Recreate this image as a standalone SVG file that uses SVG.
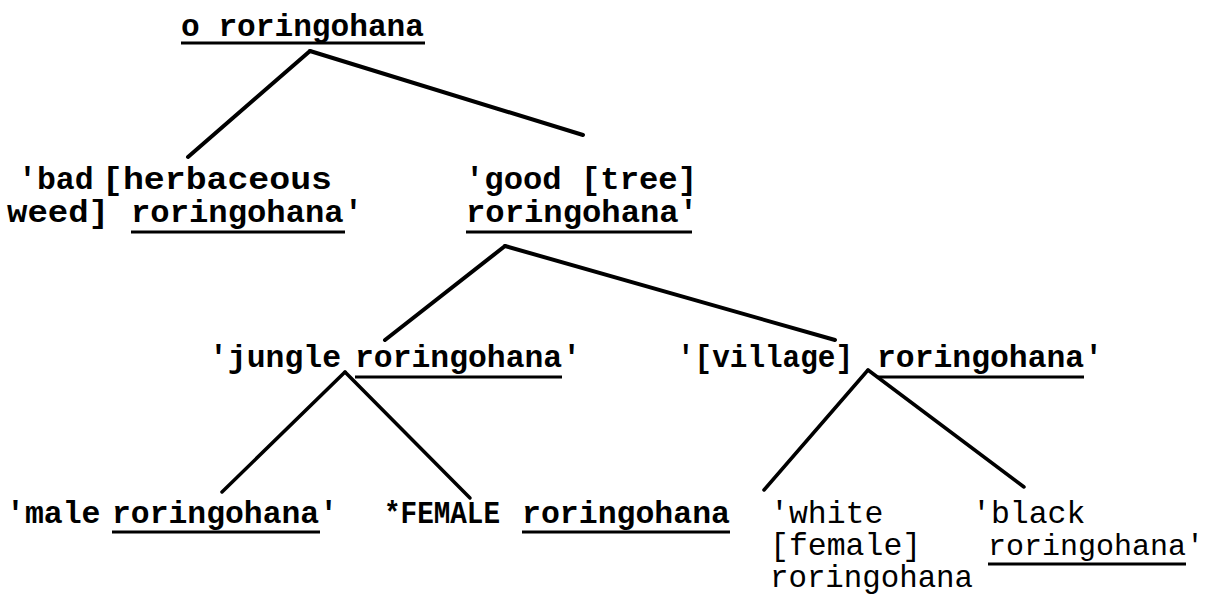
<svg xmlns="http://www.w3.org/2000/svg" width="1212" height="594" viewBox="0 0 1212 594">
<style>
  text { font-family: "Liberation Mono", "Courier New", monospace; fill: #000; white-space: pre; font-size: 31.5px; }
  .b { font-weight: bold; }
  .s { font-size: 30px; }
  .ul { stroke: #000; stroke-width: 3; }
  .edge { stroke: #000; stroke-width: 4; stroke-linecap: round; fill: none; }
  .edge2 { stroke: #000; stroke-width: 3.5; stroke-linecap: round; fill: none; }
</style>
<rect width="1212" height="594" fill="#fff"/>
<g id="connectors">
  <line class="edge" x1="310" y1="51" x2="188" y2="157"/>
  <line class="edge" x1="310" y1="51" x2="583" y2="135"/>
  <line class="edge" x1="505" y1="246" x2="385" y2="340"/>
  <line class="edge" x1="505" y1="246" x2="835" y2="340"/>
  <line class="edge2" x1="345" y1="372" x2="222" y2="492"/>
  <line class="edge2" x1="345" y1="372" x2="470" y2="498"/>
  <line class="edge2" x1="868" y1="370" x2="764" y2="490"/>
  <line class="edge2" x1="868" y1="370" x2="1024" y2="487"/>
</g>
<g id="node-root">
  <text class="b" x="181" y="36" textLength="243" lengthAdjust="spacingAndGlyphs">o roringohana</text>
  <line class="ul" x1="181" y1="43" x2="425" y2="43"/>
</g>
<g id="node-bad">
  <text class="b" x="18" y="189">'bad</text>
  <text class="b" x="102" y="189" textLength="230" lengthAdjust="spacingAndGlyphs">[herbaceous</text>
  <text class="b" x="7" y="222" textLength="102" lengthAdjust="spacingAndGlyphs">weed]</text>
  <text class="b" x="131" y="222" textLength="232" lengthAdjust="spacingAndGlyphs">roringohana'</text>
  <line class="ul" x1="131" y1="232" x2="345" y2="232"/>
</g>
<g id="node-good">
  <text class="b" x="465" y="189" textLength="232" lengthAdjust="spacingAndGlyphs">'good [tree]</text>
  <text class="b" x="466" y="222" textLength="232" lengthAdjust="spacingAndGlyphs">roringohana'</text>
  <line class="ul" x1="466" y1="232" x2="692" y2="232"/>
</g>
<g id="node-jungle">
  <text class="b" x="209" y="367" textLength="132" lengthAdjust="spacingAndGlyphs">'jungle</text>
  <text class="b" x="355" y="367" textLength="226" lengthAdjust="spacingAndGlyphs">roringohana'</text>
  <line class="ul" x1="355" y1="377" x2="562" y2="377"/>
</g>
<g id="node-village">
  <text class="b" x="677" y="367" textLength="176" lengthAdjust="spacingAndGlyphs">'[village]</text>
  <text class="b" x="877" y="367" textLength="226" lengthAdjust="spacingAndGlyphs">roringohana'</text>
  <line class="ul" x1="877" y1="377" x2="1084" y2="377"/>
</g>
<g id="node-male">
  <text class="b" x="6" y="523">'male</text>
  <text class="b" x="112" y="523" textLength="226" lengthAdjust="spacingAndGlyphs">roringohana'</text>
  <line class="ul" x1="112" y1="532" x2="320" y2="532"/>
</g>
<g id="node-female">
  <text class="b" x="384" y="523" textLength="116" lengthAdjust="spacingAndGlyphs">*FEMALE</text>
  <text class="b" x="522" y="523" textLength="208" lengthAdjust="spacingAndGlyphs">roringohana</text>
  <line class="ul" x1="522" y1="532" x2="730" y2="532"/>
</g>
<g id="node-white">
  <text x="770" y="523">'white</text>
  <text x="770" y="555">[female]</text>
  <text x="770" y="587" textLength="203" lengthAdjust="spacingAndGlyphs">roringohana</text>
</g>
<g id="node-black">
  <text x="972" y="523">'black</text>
  <text class="s" x="988" y="555">roringohana'</text>
  <line class="ul" x1="988" y1="564" x2="1186" y2="564"/>
</g>
</svg>
